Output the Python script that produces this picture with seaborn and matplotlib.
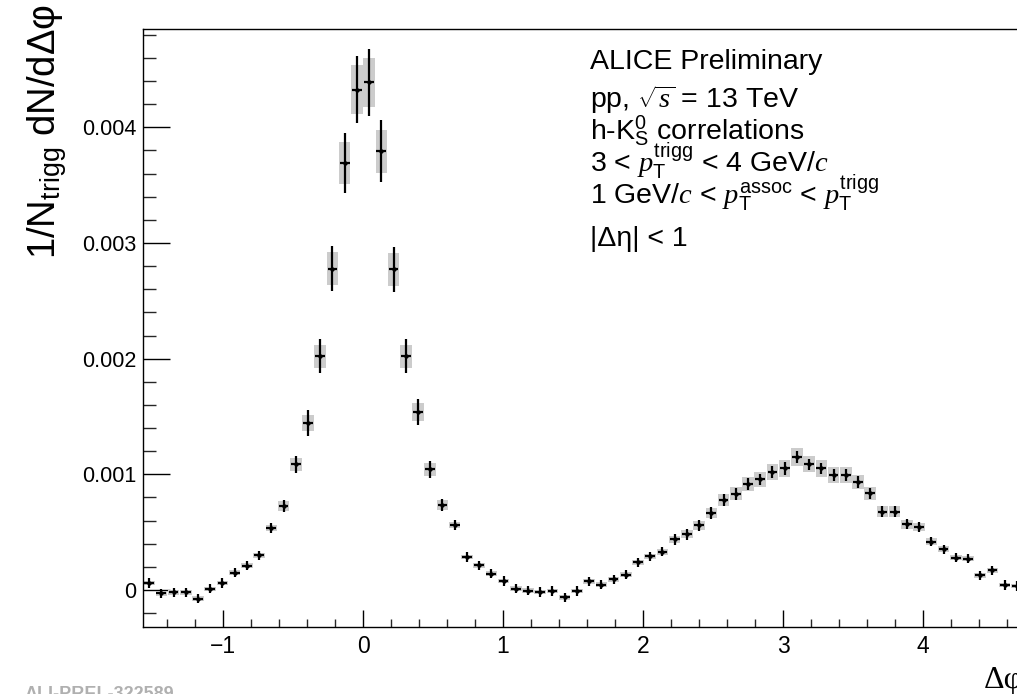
import numpy as np
import pandas as pd
import matplotlib
matplotlib.use("Agg")
import matplotlib.pyplot as plt
from matplotlib.ticker import MultipleLocator, FuncFormatter
import seaborn as sns

# ---------------- data (values in units of 1e-3) ----------------
n_bins = 72
yield_1e3 = [0.06, -0.03, -0.02, -0.02, -0.075, 0.01, 0.06, 0.15, 0.21, 0.30,
             0.536, 0.726, 1.086, 1.445, 2.022, 2.779, 3.692, 4.326, 4.389, 3.793,
             2.771, 2.022, 1.540, 1.043, 0.734, 0.562, 0.285, 0.213, 0.141, 0.078,
             0.011, -0.006, -0.017, -0.009, -0.063, -0.009, 0.075, 0.046, 0.092, 0.132,
             0.239, 0.291, 0.330, 0.437, 0.481, 0.559, 0.668, 0.778, 0.832, 0.918,
             0.956, 1.022, 1.051, 1.149, 1.086, 1.051, 0.994, 0.994, 0.933, 0.835,
             0.677, 0.677, 0.568, 0.547, 0.417, 0.352, 0.279, 0.270, 0.127, 0.170,
             0.043, 0.035]
stat_1e3 = [0.04, 0.04, 0.04, 0.04, 0.04, 0.04, 0.04, 0.04, 0.04, 0.04,
            0.045, 0.055, 0.075, 0.11, 0.15, 0.195, 0.26, 0.29, 0.29, 0.27,
            0.195, 0.15, 0.11, 0.075, 0.055, 0.045, 0.04, 0.04, 0.04, 0.04,
            0.04, 0.04, 0.04, 0.04, 0.04, 0.04, 0.04, 0.04, 0.04, 0.04,
            0.04, 0.04, 0.04, 0.045, 0.045, 0.045, 0.05, 0.05, 0.05, 0.05,
            0.05, 0.05, 0.055, 0.05, 0.05, 0.05, 0.05, 0.05, 0.05, 0.05,
            0.045, 0.045, 0.045, 0.045, 0.04, 0.04, 0.04, 0.04, 0.04, 0.04,
            0.04, 0.04]
sys_1e3 = [0.02, 0.02, 0.02, 0.02, 0.02, 0.02, 0.02, 0.02, 0.02, 0.02,
           0.03, 0.04, 0.055, 0.07, 0.10, 0.14, 0.18, 0.21, 0.21, 0.185,
           0.14, 0.10, 0.075, 0.055, 0.04, 0.03, 0.02, 0.02, 0.02, 0.02,
           0.02, 0.02, 0.02, 0.02, 0.02, 0.02, 0.02, 0.02, 0.02, 0.02,
           0.02, 0.02, 0.025, 0.03, 0.035, 0.04, 0.045, 0.05, 0.055, 0.06,
           0.065, 0.07, 0.07, 0.075, 0.07, 0.07, 0.065, 0.065, 0.06, 0.055,
           0.045, 0.045, 0.04, 0.035, 0.03, 0.025, 0.02, 0.02, 0.02, 0.02,
           0.02, 0.02]
x_ticks = [-1, 0, 1, 2, 3, 4]
y_ticks = [0, 0.001, 0.002, 0.003, 0.004]

# ---------------- derived ----------------
lo, hi = -np.pi / 2, 3 * np.pi / 2
bw = (hi - lo) / n_bins
xc = lo + (np.arange(n_bins) + 0.5) * bw
yv = np.array(yield_1e3) * 1e-3
ys = np.array(stat_1e3) * 1e-3
ysys = np.array(sys_1e3) * 1e-3
df = pd.DataFrame({"dphi": xc, "y": yv})

sns.set_theme(style="white")
plt.rcParams["font.family"] = ["Liberation Sans", "DejaVu Sans"]
plt.rcParams["mathtext.fontset"] = "custom"
plt.rcParams["mathtext.rm"] = "Liberation Sans"
plt.rcParams["mathtext.sf"] = "Liberation Sans"
plt.rcParams["mathtext.it"] = "Liberation Serif:italic"
plt.rcParams["mathtext.bf"] = "Liberation Sans:bold"

W, H = 1017, 694
fig = plt.figure(figsize=(W / 100, H / 100), dpi=100)
L, R, T, B = 143, 1023, 29, 627
ax = fig.add_axes([L / W, 1 - B / H, (R - L) / W, (B - T) / H])

# systematic boxes
ax.bar(xc, 2 * ysys, bottom=yv - ysys, width=bw * 0.95, color="#cccccc",
       edgecolor="none", zorder=1)
# stat error bars
ax.errorbar(xc, yv, yerr=ys, xerr=bw * 0.40, fmt="none", ecolor="black",
            elinewidth=1.6, capsize=0, zorder=3)
sns.scatterplot(data=df, x="dphi", y="y", ax=ax, color="black", s=10,
                marker="o", linewidth=0, zorder=4, legend=False)

ax.set_xlim(lo, hi)
ax.set_ylim(-0.00032, 0.00485)
ax.set_xticks(x_ticks)
ax.set_yticks(y_ticks)
ax.xaxis.set_minor_locator(MultipleLocator(0.2))
ax.yaxis.set_minor_locator(MultipleLocator(0.0002))
ax.yaxis.set_major_formatter(FuncFormatter(lambda v, p: "0" if abs(v) < 1e-9 else f"{v:.3f}"))
ax.tick_params(axis="y", which="major", direction="in", length=19.4, width=1.0,
               labelsize=15.5, pad=5, left=True, right=False, colors="black")
ax.tick_params(axis="y", which="minor", direction="in", length=9.7, width=1.0,
               left=True, right=False)
ax.tick_params(axis="x", which="major", direction="in", length=12.2, width=1.0,
               labelsize=16.5, pad=6, bottom=True, top=False, colors="black")
ax.tick_params(axis="x", which="minor", direction="in", length=6.1, width=1.0,
               bottom=True, top=False)
for s in ["left", "bottom", "top", "right"]:
    ax.spines[s].set_color("black")
    ax.spines[s].set_linewidth(1.0)
ax.set_xlabel("")
ax.set_ylabel("")

# axis titles
fig.text(25 / W, 1 - 4 / H, r"1/N$_{\mathrm{trigg}}$ dN/dΔφ", rotation=90,
         ha="left", va="top", fontsize=27.5, color="black")
fig.text(R / W, 1 - 688 / H, "Δφ", ha="right", va="baseline", fontsize=23,
         family=["Liberation Serif", "DejaVu Serif"], color="black")

# legend text block
tx = 590 / W
lines = [("ALICE Preliminary", 69),
         (r"pp, $\sqrt{s}$ = 13 TeV", 108),
         (r"h-K$_{\mathrm{S}}^{0}$ correlations", 140),
         (r"3 < $p_{\mathrm{T}}^{\mathrm{trigg}}$ < 4 GeV/$c$", 173),
         (r"1 GeV/$c$ < $p_{\mathrm{T}}^{\mathrm{assoc}}$ < $p_{\mathrm{T}}^{\mathrm{trigg}}$", 204),
         ("|Δη| < 1", 246)]
for txt, yb in lines:
    fig.text(tx, 1 - yb / H, txt, ha="left", va="baseline", fontsize=20.5, color="black")

# watermark (cut at the bottom edge, as in the reference)
fig.text(25 / W, 1 - 686 / H, "ALI-PREL-322589", ha="left", va="top",
         fontsize=13, fontweight="bold", color="#b0b0b0")

fig.savefig("out.png", dpi=100)
